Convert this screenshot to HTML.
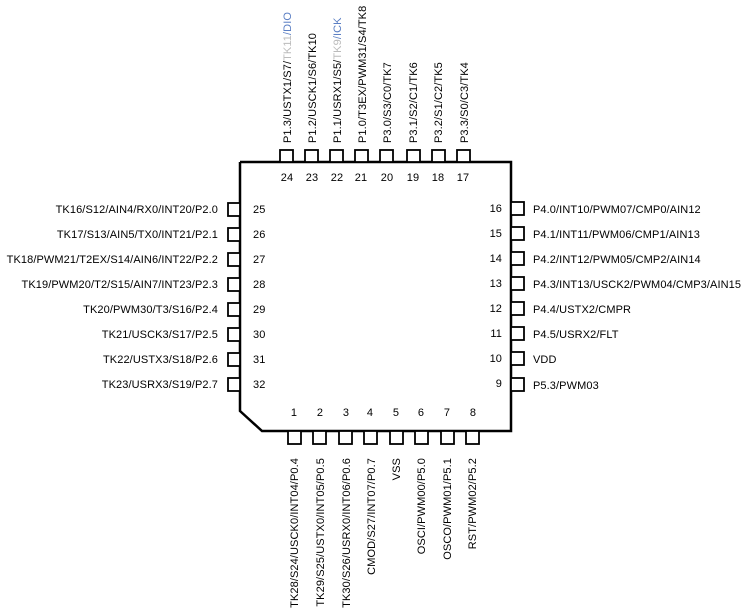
<!DOCTYPE html>
<html><head><style>
html,body{margin:0;padding:0;background:#fff;}
svg{display:block;}
text{font-family:"Liberation Sans",Arial,sans-serif;font-size:11px;fill:#000;letter-spacing:0.1px;}
</style></head><body>
<svg width="751" height="611" viewBox="0 0 751 611" xmlns="http://www.w3.org/2000/svg">
<g fill="none" stroke="#000" stroke-width="2.5">
<polyline points="240,162 511,162 511,431 262,431 240,411 240,162"/>
</g>
<g fill="#fff" stroke="#000" stroke-width="1.8">
<rect x="280" y="150" width="13" height="12"/>
<rect x="305" y="150" width="13" height="12"/>
<rect x="330" y="150" width="13" height="12"/>
<rect x="355" y="150" width="13" height="12"/>
<rect x="380" y="150" width="13" height="12"/>
<rect x="407" y="150" width="13" height="12"/>
<rect x="432" y="150" width="13" height="12"/>
<rect x="457" y="150" width="13" height="12"/>
<rect x="288" y="431" width="13" height="13"/>
<rect x="313" y="431" width="13" height="13"/>
<rect x="339" y="431" width="13" height="13"/>
<rect x="364" y="431" width="13" height="13"/>
<rect x="390" y="431" width="13" height="13"/>
<rect x="415" y="431" width="13" height="13"/>
<rect x="441" y="431" width="13" height="13"/>
<rect x="466" y="431" width="13" height="13"/>
<rect x="228" y="203" width="12" height="13"/>
<rect x="228" y="228" width="12" height="13"/>
<rect x="228" y="253" width="12" height="13"/>
<rect x="228" y="278" width="12" height="13"/>
<rect x="228" y="303" width="12" height="13"/>
<rect x="228" y="328" width="12" height="13"/>
<rect x="228" y="353" width="12" height="13"/>
<rect x="228" y="378" width="12" height="13"/>
<rect x="511" y="202" width="13" height="13"/>
<rect x="511" y="227" width="13" height="13"/>
<rect x="511" y="252" width="13" height="13"/>
<rect x="511" y="277" width="13" height="13"/>
<rect x="511" y="302" width="13" height="13"/>
<rect x="511" y="327" width="13" height="13"/>
<rect x="511" y="352" width="13" height="13"/>
<rect x="511" y="378" width="13" height="13"/>
</g>
<g text-anchor="middle" style="letter-spacing:0">
<text x="287" y="181">24</text><text x="312" y="181">23</text><text x="337" y="181">22</text><text x="361" y="181">21</text>
<text x="387" y="181">20</text><text x="413" y="181">19</text><text x="438" y="181">18</text><text x="463" y="181">17</text>
<text x="294" y="416">1</text><text x="320" y="416">2</text><text x="346" y="416">3</text><text x="370" y="416">4</text>
<text x="396" y="416">5</text><text x="421" y="416">6</text><text x="447" y="416">7</text><text x="473" y="416">8</text>
</g>
<g style="letter-spacing:0">
<text x="253" y="213">25</text><text x="253" y="238">26</text><text x="253" y="263">27</text><text x="253" y="288">28</text>
<text x="253" y="313">29</text><text x="253" y="338">30</text><text x="253" y="363">31</text><text x="253" y="388">32</text>
</g>
<g text-anchor="end" style="letter-spacing:0">
<text x="502" y="212">16</text><text x="502" y="237">15</text><text x="502" y="262">14</text><text x="502" y="287">13</text>
<text x="502" y="312">12</text><text x="502" y="337">11</text><text x="502" y="362">10</text><text x="502" y="387">9</text>
</g>
<g text-anchor="end">
<text x="218" y="213">TK16/S12/AIN4/RX0/INT20/P2.0</text>
<text x="218" y="238">TK17/S13/AIN5/TX0/INT21/P2.1</text>
<text x="218" y="263">TK18/PWM21/T2EX/S14/AIN6/INT22/P2.2</text>
<text x="218" y="288">TK19/PWM20/T2/S15/AIN7/INT23/P2.3</text>
<text x="218" y="313">TK20/PWM30/T3/S16/P2.4</text>
<text x="218" y="338">TK21/USCK3/S17/P2.5</text>
<text x="218" y="363">TK22/USTX3/S18/P2.6</text>
<text x="218" y="388">TK23/USRX3/S19/P2.7</text>
</g>
<g>
<text x="533" y="213">P4.0/INT10/PWM07/CMP0/AIN12</text>
<text x="533" y="238">P4.1/INT11/PWM06/CMP1/AIN13</text>
<text x="533" y="263">P4.2/INT12/PWM05/CMP2/AIN14</text>
<text x="533" y="288">P4.3/INT13/USCK2/PWM04/CMP3/AIN15</text>
<text x="533" y="313">P4.4/USTX2/CMPR</text>
<text x="533" y="338">P4.5/USRX2/FLT</text>
<text x="533" y="363">VDD</text>
<text x="533" y="389">P5.3/PWM03</text>
</g>
<g>
<text transform="translate(291,143) rotate(-90)">P1.3/USTX1/S7/<tspan fill="#bbb">TK11</tspan><tspan fill="#5b7fc4">/DIO</tspan></text>
<text transform="translate(316,143) rotate(-90)">P1.2/USCK1/S6/TK10</text>
<text transform="translate(341,143) rotate(-90)">P1.1/USRX1/S5/<tspan fill="#bbb">TK9</tspan><tspan fill="#5b7fc4">/ICK</tspan></text>
<text transform="translate(366,143) rotate(-90)">P1.0/T3EX/PWM31/S4/TK8</text>
<text transform="translate(391,143) rotate(-90)">P3.0/S3/C0/TK7</text>
<text transform="translate(417,143) rotate(-90)">P3.1/S2/C1/TK6</text>
<text transform="translate(442,143) rotate(-90)">P3.2/S1/C2/TK5</text>
<text transform="translate(468,143) rotate(-90)">P3.3/S0/C3/TK4</text>
</g>
<g text-anchor="end">
<text transform="translate(298,458) rotate(-90)">TK28/S24/USCK0/INT04/P0.4</text>
<text transform="translate(324,458) rotate(-90)">TK29/S25/USTX0/INT05/P0.5</text>
<text transform="translate(350,458) rotate(-90)">TK30/S26/USRX0/INT06/P0.6</text>
<text transform="translate(375,458) rotate(-90)">CMOD/S27/INT07/P0.7</text>
<text transform="translate(400,458) rotate(-90)">VSS</text>
<text transform="translate(425,458) rotate(-90)">OSCI/PWM00/P5.0</text>
<text transform="translate(451,458) rotate(-90)">OSCO/PWM01/P5.1</text>
<text transform="translate(476,458) rotate(-90)">RST/PWM02/P5.2</text>
</g>
</svg>
</body></html>
